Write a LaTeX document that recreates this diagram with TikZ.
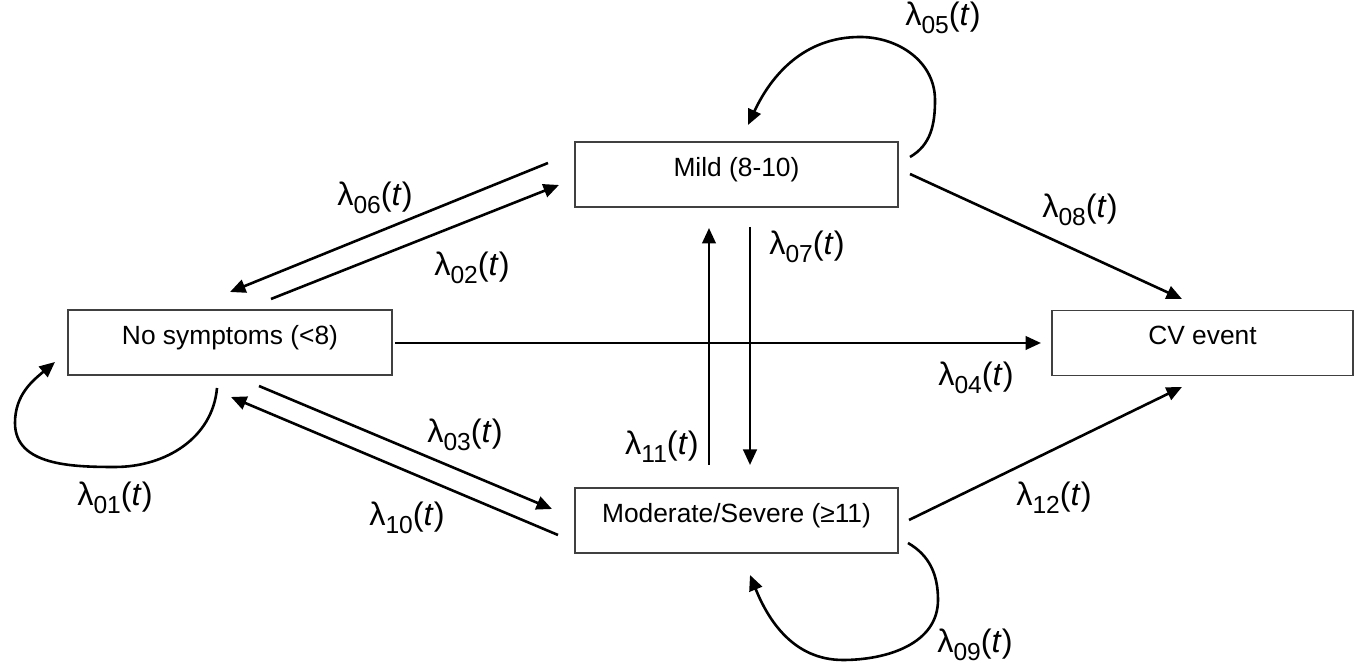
\documentclass[tikz,border=0pt]{standalone}
\usepackage{fontspec}
\setmainfont{Liberation Sans}
\usetikzlibrary{arrows.meta}
\newcommand{\lamt}[1]{λ\raisebox{-0.25em}{\fontsize{14}{14}\selectfont #1}(\textit{t})}
\begin{document}
\begin{tikzpicture}[x=0.02cm,y=0.02cm,
  state/.style={draw=black!75,line width=0.034cm,minimum height=1.3cm,inner sep=0pt,
    font=\fontsize{15}{18}\selectfont,text height=0.8em,text depth=0.6em},
  conn/.style={line width=0.052cm,-{Triangle[length=0.31cm,width=0.27cm]}},
  lab/.style={font=\fontsize{18.5}{22}\selectfont,inner sep=0pt}]
\useasboundingbox (0,0) rectangle (1357,668);
% states
\node[state,minimum width=6.46cm] (mild) at (736.5,493.5) {Mild (8-10)};
\node[state,minimum width=6.48cm] (nosym) at (230,325.5) {No symptoms (<8)};
\node[state,minimum width=6.46cm] (mod) at (736.5,147.5) {Moderate/Severe (≥11)};
\node[state,minimum width=6.02cm] (cv) at (1202.5,325) {CV event};
% connector ends
\coordinate (c06s) at (548,505); \coordinate (c06e) at (230,376);
\coordinate (c02s) at (271,369); \coordinate (c02e) at (559,483);
\coordinate (c04s) at (395,325); \coordinate (c04e) at (1041,325);
\coordinate (c08s) at (910,494); \coordinate (c08e) at (1182,369);
\coordinate (c12s) at (909,148); \coordinate (c12e) at (1182,281);
\coordinate (c03s) at (259,282); \coordinate (c03e) at (552,159);
\coordinate (c10s) at (558,133); \coordinate (c10e) at (231,271);
\coordinate (c11s) at (709,203); \coordinate (c11e) at (709,440);
\coordinate (c07s) at (750,441); \coordinate (c07e) at (750,203);
% loops
\coordinate (l05s) at (910,511); \coordinate (l05a) at (935,568); \coordinate (l05b) at (860,631); \coordinate (l05e) at (748,543);
\coordinate (l01s) at (217,280); \coordinate (l01a) at (115,201); \coordinate (l01b) at (15,245); \coordinate (l01e) at (55,306);
\coordinate (l09s) at (908,125); \coordinate (l09a) at (938,68); \coordinate (l09b) at (843,8); \coordinate (l09e) at (750,93);
% connectors
\draw[conn] (c06s) -- (c06e);
\draw[conn] (c02s) -- (c02e);
\draw[conn] (c04s) -- (c04e);
\draw[conn] (c08s) -- (c08e);
\draw[conn] (c12s) -- (c12e);
\draw[conn] (c03s) -- (c03e);
\draw[conn] (c10s) -- (c10e);
\draw[conn] (c11s) -- (c11e);
\draw[conn] (c07s) -- (c07e);
\draw[conn] (l05s) to[out=30,in=-90] (l05a) to[out=90,in=0] (l05b) to[out=180,in=65] (l05e);
\draw[conn] (l01s) to[out=-95,in=0] (l01a) to[out=180,in=-90] (l01b) to[out=90,in=-140] (l01e);
\draw[conn] (l09s) to[out=-30,in=90] (l09a) to[out=-90,in=0] (l09b) to[out=180,in=-68] (l09e);
% labels
\node[lab] (t05) at (943,650) {\lamt{05}};
\node[lab] (t06) at (375,470) {\lamt{06}};
\node[lab] (t02) at (472,400) {\lamt{02}};
\node[lab] (t08) at (1080,458) {\lamt{08}};
\node[lab] (t07) at (807,421) {\lamt{07}};
\node[lab] (t04) at (976,290) {\lamt{04}};
\node[lab] (t03) at (465,233) {\lamt{03}};
\node[lab] (t11) at (662,221) {\lamt{11}};
\node[lab] (t01) at (115,170) {\lamt{01}};
\node[lab] (t10) at (407,150) {\lamt{10}};
\node[lab] (t12) at (1054,170) {\lamt{12}};
\node[lab] (t09) at (975,23) {\lamt{09}};
\end{tikzpicture}
\end{document}
